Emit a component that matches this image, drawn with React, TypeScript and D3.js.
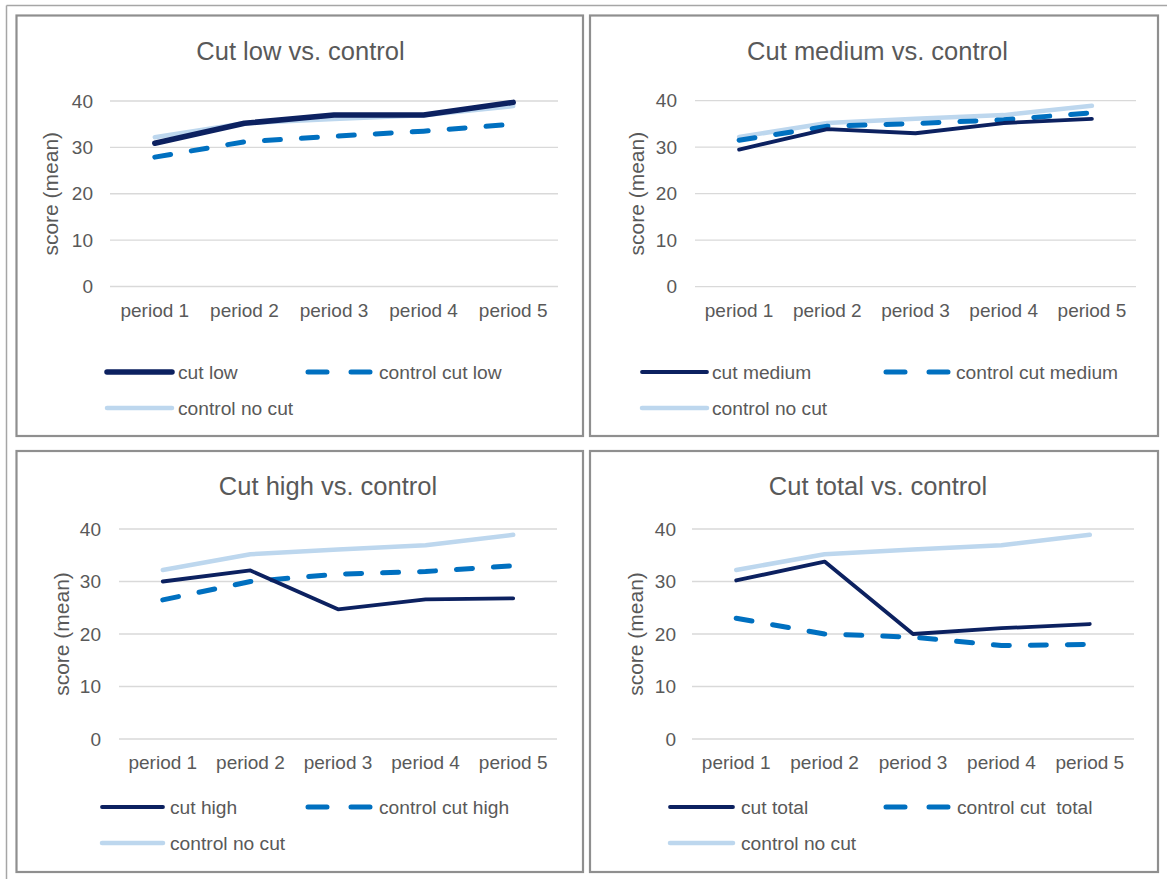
import React from "react";
import * as d3 from "d3";

const periods = ["period 1", "period 2", "period 3", "period 4", "period 5"];
const yTicks = [0, 10, 20, 30, 40];

const controlNoCut = [32.2, 35.2, 36.1, 36.9, 38.9];
const cutLow = [30.9, 35.2, 37.0, 37.0, 39.7];
const controlCutLow = [27.9, 31.2, 32.4, 33.5, 35.0];
const cutMedium = [29.5, 33.9, 33.0, 35.2, 36.1];
const controlCutMedium = [31.5, 34.5, 35.1, 35.9, 37.4];
const cutHigh = [30.0, 32.1, 24.7, 26.6, 26.8];
const controlCutHigh = [26.5, 30.0, 31.4, 31.9, 33.0];
const cutTotal = [30.2, 33.8, 20.0, 21.1, 21.9];
const controlCutTotal = [23.0, 20.0, 19.4, 17.8, 18.0];

const titles = ["Cut low vs. control", "Cut medium vs. control", "Cut high vs. control", "Cut total vs. control"];
const cutNames = ["cut low", "cut medium", "cut high", "cut total"];
const controlNames = ["control cut low", "control cut medium", "control cut high", "control cut  total"];
const noCutName = "control no cut";
const cutSeries = [cutLow, cutMedium, cutHigh, cutTotal];
const controlSeries = [controlCutLow, controlCutMedium, controlCutHigh, controlCutTotal];

const DARK = "#0c2160";
const MID = "#0070c0";
const LIGHT = "#bdd7ee";
const TEXT = "#595959";
const GRID = "#d9d9d9";
const FONT = "'Liberation Sans', Arial, sans-serif";

type Layout = {
  box: [number, number, number, number];
  px: [number, number];
  py: [number, number];
  titleX: number;
  titleY: number;
  tickRight: number;
  yLabelX: number;
  xLabelY: number;
  legY: [number, number];
  leg1: [number, number, number];
  leg2: [number, number, number];
  cutWidth: number;
};

const layouts: Layout[] = [
  { box: [16.5, 15.5, 583, 436], px: [110, 558], py: [286.5, 101], titleX: 300.5, titleY: 60, tickRight: 93, yLabelX: 51, xLabelY: 317, legY: [372, 408], leg1: [107, 172, 178], leg2: [308, 372, 379], cutWidth: 5.5 },
  { box: [590, 15.5, 1158, 436], px: [695, 1136], py: [286.7, 100.7], titleX: 877.5, titleY: 60, tickRight: 677, yLabelX: 637, xLabelY: 317, legY: [372, 408], leg1: [642, 707, 712], leg2: [886, 949, 956], cutWidth: 3.8 },
  { box: [16.5, 451, 583, 872], px: [119, 557], py: [739, 529], titleX: 328, titleY: 495, tickRight: 101, yLabelX: 62, xLabelY: 769, legY: [807, 843], leg1: [102, 163, 170], leg2: [308, 371, 379], cutWidth: 3.8 },
  { box: [590, 451, 1158, 872], px: [692, 1134], py: [739, 529], titleX: 878, titleY: 495, tickRight: 676, yLabelX: 636, xLabelY: 769, legY: [807, 843], leg1: [670, 733, 741], leg2: [886, 949, 957], cutWidth: 3.8 },
];

function Panel({ i }: { i: number }) {
  const L = layouts[i];
  const x = d3.scaleBand<string>().domain(periods).range(L.px);
  const y = d3.scaleLinear().domain([0, 40]).range(L.py);
  const cx = (p: string) => (x(p) as number) + x.bandwidth() / 2;
  const line = d3
    .line<number>()
    .x((_, k) => cx(periods[k]))
    .y((v) => y(v));
  const [bx0, by0, bx1, by1] = L.box;
  const yMid = (L.py[0] + L.py[1]) / 2;
  const dash = "16 21";
  return (
    <g>
      <rect x={bx0} y={by0} width={bx1 - bx0} height={by1 - by0} fill="#fff" stroke="#8f8f8f" strokeWidth={2.2} />
      <text x={L.titleX} y={L.titleY} textAnchor="middle" fontSize={25.5} fill={TEXT} fontFamily={FONT}>
        {titles[i]}
      </text>
      {yTicks.map((t) => (
        <g key={t}>
          <line x1={L.px[0]} x2={L.px[1]} y1={y(t)} y2={y(t)} stroke={GRID} strokeWidth={1.3} />
          <text x={L.tickRight} y={y(t)} dy="0.35em" textAnchor="end" fontSize={19} fill={TEXT} fontFamily={FONT}>
            {t}
          </text>
        </g>
      ))}
      {periods.map((p) => (
        <text key={p} x={cx(p)} y={L.xLabelY} textAnchor="middle" fontSize={19} fill={TEXT} fontFamily={FONT}>
          {p}
        </text>
      ))}
      <text
        transform={`translate(${L.yLabelX},${yMid}) rotate(-90)`}
        textAnchor="middle"
        dy="0.35em"
        fontSize={21}
        fill={TEXT}
        fontFamily={FONT}
      >
        score (mean)
      </text>
      <path d={line(controlNoCut) || ""} fill="none" stroke={LIGHT} strokeWidth={4.5} strokeLinejoin="round" strokeLinecap="round" />
      <path d={line(controlSeries[i]) || ""} fill="none" stroke={MID} strokeWidth={5} strokeDasharray={dash} strokeLinecap="round" strokeLinejoin="round" />
      <path d={line(cutSeries[i]) || ""} fill="none" stroke={DARK} strokeWidth={L.cutWidth} strokeLinejoin="round" strokeLinecap="round" />
      {/* legend */}
      <line x1={L.leg1[0]} x2={L.leg1[1]} y1={L.legY[0]} y2={L.legY[0]} stroke={DARK} strokeWidth={L.cutWidth} strokeLinecap="round" />
      <text x={L.leg1[2]} y={L.legY[0]} dy="0.35em" fontSize={19.2} fill={TEXT} fontFamily={FONT}>
        {cutNames[i]}
      </text>
      <line x1={L.leg2[0]} x2={L.leg2[1]} y1={L.legY[0]} y2={L.legY[0]} stroke={MID} strokeWidth={5} strokeDasharray="19 24" strokeLinecap="round" />
      <text x={L.leg2[2]} y={L.legY[0]} dy="0.35em" fontSize={19.2} fill={TEXT} fontFamily={FONT} style={{ whiteSpace: "pre" }}>
        {controlNames[i]}
      </text>
      <line x1={L.leg1[0]} x2={L.leg1[1]} y1={L.legY[1]} y2={L.legY[1]} stroke={LIGHT} strokeWidth={4.5} strokeLinecap="round" />
      <text x={L.leg1[2]} y={L.legY[1]} dy="0.35em" fontSize={19.2} fill={TEXT} fontFamily={FONT}>
        {noCutName}
      </text>
    </g>
  );
}

export default function App() {
  return (
    <svg width={1167} height={879} style={{ position: "absolute", left: 0, top: 0, background: "#fff" }}>
      <rect x={0} y={0} width={1167} height={879} fill="#fff" />
      <line x1={6.5} x2={1167} y1={5.5} y2={5.5} stroke="#a6a6a6" strokeWidth={1.5} />
      <line x1={6.5} x2={6.5} y1={5.5} y2={879} stroke="#a6a6a6" strokeWidth={1.5} />
      {[0, 1, 2, 3].map((i) => (
        <Panel key={i} i={i} />
      ))}
    </svg>
  );
}
